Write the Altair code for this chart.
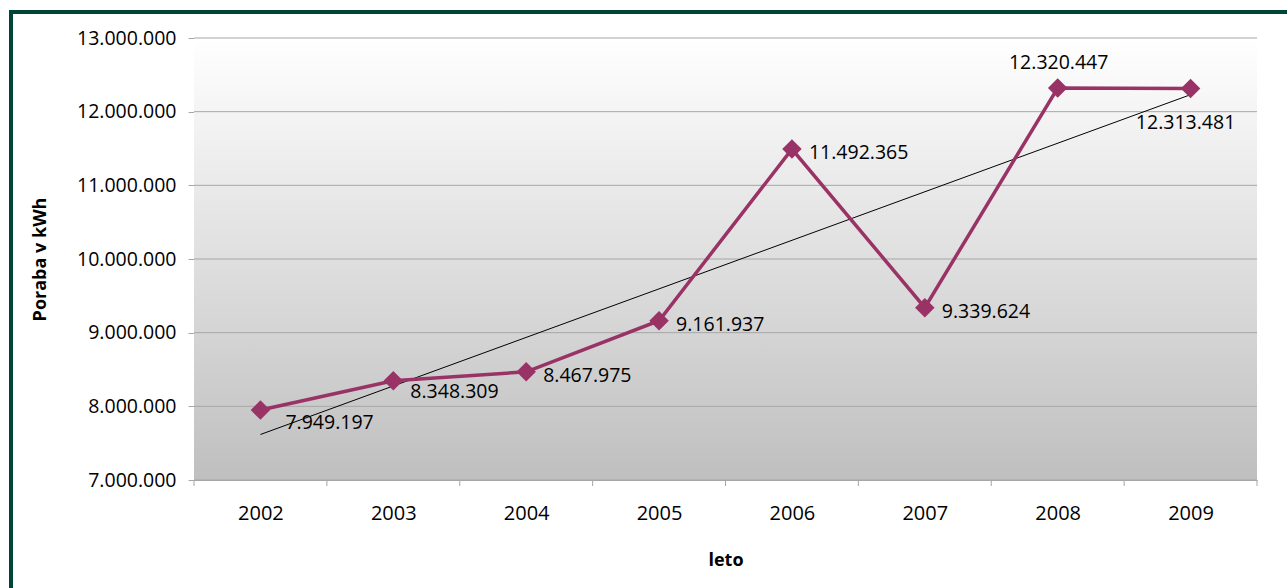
import altair as alt
import pandas as pd

# ---- data ----
years = [2002, 2003, 2004, 2005, 2006, 2007, 2008, 2009]
values = [7949197, 8348309, 8467975, 9161937, 11492365, 9339624, 12320447, 12313481]
y_ticks = [7000000, 8000000, 9000000, 10000000, 11000000, 12000000, 13000000]

df = pd.DataFrame({"leto": years, "poraba": values})
grid_df = pd.DataFrame({"poraba": y_ticks})
bounds_df = pd.DataFrame({"leto": [y - 0.5 for y in years] + [years[-1] + 0.5]})

W, H = 1063, 442
FONT = "Open Sans"
LINE_COL = "#993366"
GRID_COL = "#a6a6a6"
FMT = "replace(format(datum.poraba, ','), regexp(',', 'g'), '.')"

xscale = alt.Scale(domain=[2001.5, 2009.5], nice=False, zero=False)
yscale = alt.Scale(domain=[7000000, 13000000], nice=False, zero=False)

x_axis = alt.Axis(values=years, format="d", ticks=False, tickSize=0, grid=False,
                  labelPadding=23, labelFontSize=20, labelFont=FONT, labelColor="#000000",
                  domainColor=GRID_COL, title="leto", titleFont=FONT, titleFontSize=18,
                  titleFontWeight="bold", titleColor="#000000", titleY=80,
                  titleBaseline="middle")
y_axis = alt.Axis(values=y_ticks, grid=False, tickSize=6, tickColor=GRID_COL,
                  domainColor=GRID_COL, labelPadding=12, labelFontSize=19.5, labelFont=FONT,
                  labelColor="#000000",
                  labelExpr="replace(format(datum.value, ','), regexp(',', 'g'), '.')",
                  title="Poraba v kWh", titleFont=FONT, titleFontSize=18,
                  titleFontWeight="bold", titleColor="#000000", titleX=-154, titleY=H / 2,
                  titleAngle=270, titleAlign="center", titleBaseline="middle")


def X():
    return alt.X("leto:Q", scale=xscale, axis=x_axis)


def Y():
    return alt.Y("poraba:Q", scale=yscale, axis=y_axis)


bg = alt.Chart(alt.Data(values=[{}])).mark_rect(
    fill=alt.LinearGradient(
        gradient="linear", x1=0, x2=0, y1=0, y2=1,
        stops=[alt.GradientStop(color="#ffffff", offset=0),
               alt.GradientStop(color="#bfbfbf", offset=1)],
    )
).encode(x=alt.value(0), x2=alt.value(W), y=alt.value(0), y2=alt.value(H))

frame = alt.Chart(alt.Data(values=[{}])).mark_rect(
    fill=None, stroke="#004638", strokeWidth=4
).encode(x=alt.value(-183), x2=alt.value(W + 60), y=alt.value(-26), y2=alt.value(H + 130))

grid = alt.Chart(grid_df).mark_rule(color=GRID_COL, strokeWidth=1).encode(y=Y())

xticks = alt.Chart(bounds_df).mark_rule(color=GRID_COL, strokeWidth=1).encode(
    x=X(), y=alt.value(H), y2=alt.value(H + 6)
)

base = alt.Chart(df)

trend = base.transform_regression("leto", "poraba", method="linear").mark_line(
    color="#000000", strokeWidth=1
).encode(x=X(), y=Y())

line = base.mark_line(color=LINE_COL, strokeWidth=3.5).encode(x=X(), y=Y())
pts = base.mark_point(shape="diamond", filled=True, size=380, color=LINE_COL, opacity=1).encode(
    x=X(), y=Y()
)


def labels(sel, **kw):
    return base.transform_filter(
        alt.FieldOneOfPredicate(field="leto", oneOf=sel)
    ).transform_calculate(lbl=FMT).mark_text(
        font=FONT, fontSize=19.5, color="#000000", baseline="middle", **kw
    ).encode(x=X(), y=Y(), text="lbl:N")


lab_right = labels([2004, 2005, 2006, 2007], align="left", dx=17, dy=4)
lab_2003 = labels([2003], align="left", dx=17, dy=11)
lab_2002 = labels([2002], align="left", dx=25, dy=13)
lab_above = labels([2008], align="center", dx=1, dy=-25)
lab_below = labels([2009], align="center", dx=-5, dy=34)

chart = alt.layer(
    bg, grid, xticks, trend, line, pts,
    lab_right, lab_2003, lab_2002, lab_above, lab_below, frame,
).properties(
    width=W, height=H,
    autosize=alt.AutoSizeParams(type="none"),
    padding={"left": 194, "top": 38, "right": 30, "bottom": 108},
    background="#ffffff",
).configure_view(stroke=None)

chart.save("out.html", embed_options={"renderer": "svg", "actions": False})
